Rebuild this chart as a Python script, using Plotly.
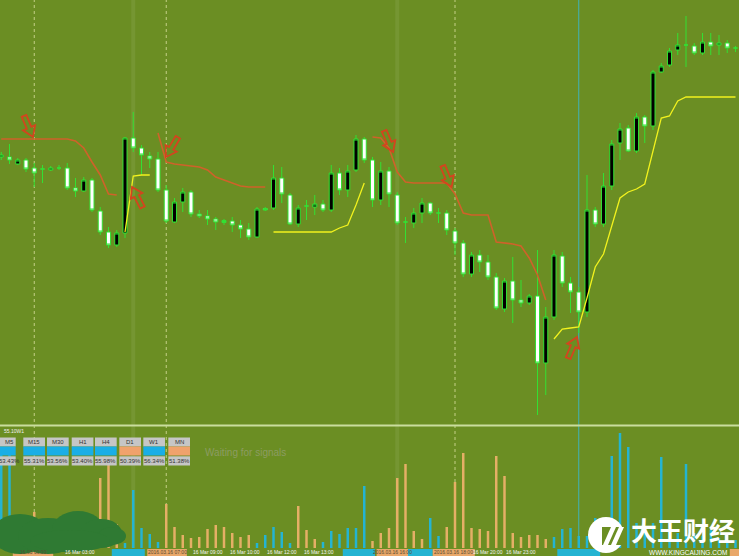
import math
import plotly.graph_objects as go

W, H = 739, 556
BG = "#6b8e23"
WICK = "#33e033"
ORANGE_LINE = "#cf622a"
YELLOW_LINE = "#f2f21e"
ARROW_RED = "#d4441e"
BAR_BLUE = "#24b4d2"
BAR_ORANGE = "#e5af66"
CELL_BLUE = "#1aaee6"
CELL_ORANGE = "#f0a26c"
CELL_GREY = "#c6c6c6"

# ---------------- data ----------------
idx = list(range(90))

opens = [343, 343, 336, 340, 332, 331, 330, 332, 332, 312,
         309, 320, 289, 268, 255, 267, 362, 352, 344, 341,
         310, 278, 298, 308, 286, 284, 281, 277.5, 279, 275,
         271, 263, 291.5, 292, 322, 305, 276, 294, 293, 296,
         290, 327, 310, 330, 361, 340, 300, 329, 305, 278,
         277, 287, 297, 287, 287, 269, 257, 226, 245, 238,
         223, 191, 219, 200, 197, 204, 137, 183, 244, 217,
         208, 188, 290, 276, 314, 357, 372, 349, 383, 374,
         428, 435, 450, 455, 454, 447, 458, 455, 457, 452]
highs = [348, 356, 342, 342, 337, 335, 334, 335, 337, 322,
         323, 322, 293, 273, 270, 363, 388, 355, 348, 348,
         315, 302, 312, 310, 290, 290, 283, 281, 283, 280,
         277, 293, 293, 335, 333, 307, 295, 300, 305, 300,
         335, 332, 335, 365, 363, 343, 338, 333, 308, 283,
         292, 302, 298, 292, 290, 272, 260, 248, 250, 245,
         227, 222, 243, 220, 206, 250, 193, 250, 248, 223,
         213, 325, 293, 327, 360, 377, 375, 387, 385, 430,
         437, 452, 467, 484, 457, 467, 467, 465, 460, 454]
lows = [340, 336, 335, 328, 313, 317, 329, 330, 310, 303,
        308, 288, 265, 252, 253, 262, 348, 325, 332, 308,
        277, 277, 288, 283, 282, 275, 270, 275, 268, 262,
        260, 262, 289, 290, 297, 275, 273, 280, 285, 288,
        288, 305, 303, 328, 337, 293, 295, 293, 275, 257,
        272, 277, 285, 277, 265, 245, 223, 223, 228, 220,
        190, 188, 177, 193, 195, 85, 105, 180, 213, 187,
        167, 183, 273, 273, 310, 340, 348, 347, 357, 370,
        427, 433, 445, 433, 445, 445, 445, 445, 447, 448]
closes = [345, 340, 340, 331, 327, 331, 332, 332, 312, 309,
          320, 290, 268, 255, 267, 362, 352, 345, 341, 310,
          279, 298, 308, 286, 284, 281, 278, 279.5, 275, 271,
          263, 291, 290, 322, 306, 276, 292, 294, 296, 290,
          327, 310, 329, 361, 340, 300, 329, 306, 277, 278,
          287, 297, 287, 287, 270, 257, 226, 245, 238, 223,
          192, 219, 200, 197, 204, 137, 183, 245, 217, 208,
          188, 290, 276, 314, 356, 371, 349, 383, 374, 428,
          434, 449, 455, 455, 447, 458, 454, 457, 452, 452]

N = None
resistance = [361, 361, 361, 361, 361, 361, 361, 361, 361, 359,
              352, 338, 325, 306, 305, N, N, N, N, 367,
              338, 336, 335, 334, 333, 330, 323, 320, 317, 314,
              313, 313, 313, N, N, N, N, N, N, N,
              N, N, N, N, N, 363, 362, 352, 328, 318,
              317, 317, 317, 317, 317, 306, 287, 285, 285, 285,
              258, 257, 256, 254, 242, 225, 200, N, N, N,
              N, N, N, N, N, N, N, N, N, N,
              N, N, N, N, N, N, N, N, N, N]
support = [N, N, N, N, N, N, N, N, N, N,
           N, N, N, N, N, 268, 324, 325, 325, N,
           N, N, N, N, N, N, N, N, N, N,
           N, N, N, 268, 268, 268, 268, 268, 268, 268,
           268, 272, 275, 295, 317, N, N, N, N, N,
           N, N, N, N, N, N, N, N, N, N,
           N, N, N, N, N, N, N, 161, 171, 172,
           173, 202, 233, 246, 274, 302, 308, 311, 316, 348,
           382, 384, 399, 403, 403, 403, 403, 403, 403, 403]

# signal histogram (lower panel)
hist = [100, 100, 20, 10, 36, 15, 12, 8, 4, 4,
        4, 4, 70, 85, 24, 5, 58, 20, 14, 6,
        44, 21, 13, 10, 11, 19, 23, 21, 15, 11,
        13, 5, 13, 21, 16, 5, 42, 18, 9, 6,
        17, 14, 20, 20, 62, 7, 15, 20, 70, 84,
        17, 9, 30, 12, 21, 66, 95, 20, 19, 17,
        92, 72, 15, 11, 13, 13, 9, 11, 19, 20,
        12, 12, 30, 25, 92, 115, 101, 25, 20, 25,
        91, 20, 15, 84, 15, 12, 18, 10, 14, 8]
hist_side = ("bbbsssssss" "sssssbbbbb" "ssssssssss" "sbbbbbsssb"
             "bbbbbsssss" "ssbbssssss" "sssssssbbb" "bbbbbbbbbb" "bbbbbbbbbb")

# signal arrows: candle position, price at tip, direction (deg clockwise from up)
sig_idx = [3.85, 15.85, 19.97, 47.5, 54.6, 69.8]
sig_price = [363, 313, 343, 348, 313, 163]
sig_angle = [157, 333, 211, 157, 157, 23]

# period separators
sep_dotted = [4, 20, 55]
sep_faint = [16, 48]
sep_cyan = [70]

# timeframe table
tf_labels = ["M5", "M15", "M30", "H1", "H4", "D1", "W1", "MN"]
tf_values = ["53.43%", "55.31%", "53.56%", "53.40%", "55.98%", "50.39%", "56.34%", "51.38%"]
tf_signal = ["buy", "buy", "buy", "buy", "buy", "sell", "buy", "sell"]

# time axis labels (bottom strip)
time_idx = [9.5, 25, 29.5, 34, 38.5, 59, 63]
time_txt = ["16 Mar 03:00", "16 Mar 09:00", "16 Mar 10:00", "16 Mar 12:00", "16 Mar 13:00",
            "16 Mar 20:00", "16 Mar 23:00"]
strip_start = [1.4, 13.4, 17.7, 41.4, 45.5, 49.3, 52.3, 67.4, 88.3]
strip_end = [6.3, 17.4, 22.5, 45.3, 49.3, 52.3, 57.4, 72.6, 89.6]
strip_kind = ["s", "b", "s", "b", "s", "b", "s", "b", "s"]
strip_txt = ["16.03 00:00", "", "2016.03.16 07:00", "", "2016.03.16 16:00", "",
             "2016.03.16 18:00", "", ""]

# ---------------- helpers ----------------
X0, DX = 1.25, 8.25
XMIN = (0 - X0) / DX
XMAX = (W - X0) / DX


def PX(x):
    return x / W


def PY(y):
    return 1 - y / H


def ppath(pts):
    return "M " + " L ".join(f"{PX(x):.5f},{PY(y):.5f}" for x, y in pts) + " Z"


ARROW = [(0, 0), (-6.5, -10), (-2.5, -10), (-2.5, -23), (2.5, -23), (2.5, -10), (6.5, -10)]


def arrow_path(angle):
    a = math.radians(angle)
    pts = []
    for px_, py_ in ARROW:
        x = px_ * math.cos(a) + py_ * math.sin(a)
        y = -px_ * math.sin(a) + py_ * math.cos(a)
        pts.append((x, y))
    return "M " + " L ".join(f"{x:.2f},{y:.2f}" for x, y in pts) + " Z"


# ---------------- figure ----------------
fig = go.Figure()

fig.add_trace(go.Scatter(x=idx, y=resistance, mode="lines", connectgaps=False,
                         line=dict(color=ORANGE_LINE, width=1.6), hoverinfo="skip"))
fig.add_trace(go.Scatter(x=idx, y=support, mode="lines", connectgaps=False,
                         line=dict(color=YELLOW_LINE, width=1.3), hoverinfo="skip"))
fig.add_trace(go.Candlestick(
    x=idx, open=opens, high=highs, low=lows, close=closes,
    increasing=dict(fillcolor="#000000", line=dict(color=WICK, width=1)),
    decreasing=dict(fillcolor="#ffffff", line=dict(color=WICK, width=1)),
    whiskerwidth=0, hoverinfo="skip"))
fig.add_trace(go.Bar(x=idx, y=hist, yaxis="y2", width=0.3,
                     marker=dict(color=[BAR_BLUE if s == "b" else BAR_ORANGE for s in hist_side],
                                 line=dict(width=0)),
                     hoverinfo="skip"))

shapes = []
ybot = PY(548)
for v in sep_dotted:
    shapes.append(dict(type="line", xref="x", yref="paper", x0=v, x1=v, y0=ybot, y1=1,
                       line=dict(color="#c4cf86", width=1, dash="dot"), layer="below"))
for v in sep_faint:
    shapes.append(dict(type="line", xref="x", yref="paper", x0=v, x1=v, y0=ybot, y1=1,
                       line=dict(color="rgba(255,255,255,0.07)", width=4), layer="below"))
for v in sep_cyan:
    shapes.append(dict(type="line", xref="x", yref="paper", x0=v, x1=v, y0=ybot, y1=1,
                       line=dict(color="#3fb2b8", width=1), layer="below"))

# panel separator
shapes.append(dict(type="line", xref="paper", yref="paper", x0=0, x1=1, y0=PY(425.5), y1=PY(425.5),
                   line=dict(color="#cadd9e", width=2)))

# arrows
for i_, p_, a_ in zip(sig_idx, sig_price, sig_angle):
    shapes.append(dict(type="path", xref="x", yref="y", xsizemode="pixel", ysizemode="pixel",
                       xanchor=i_, yanchor=p_, path=arrow_path(a_),
                       line=dict(color=ARROW_RED, width=1.8), fillcolor="rgba(0,0,0,0)"))

# timeframe table
box_left = [-6, 23.3, 47, 71.7, 95, 119.3, 143.3, 168.3]
box_w = 21.7
annotations = []
for k, lab in enumerate(tf_labels):
    x0 = box_left[k]
    x1 = x0 + box_w
    shapes.append(dict(type="rect", xref="paper", yref="paper", x0=PX(x0), x1=PX(x1),
                       y0=PY(446.5), y1=PY(437.5), fillcolor=CELL_GREY, line=dict(width=0)))
    shapes.append(dict(type="rect", xref="paper", yref="paper", x0=PX(x0), x1=PX(x1),
                       y0=PY(455.5), y1=PY(446.5),
                       fillcolor=CELL_BLUE if tf_signal[k] == "buy" else CELL_ORANGE, line=dict(width=0)))
    shapes.append(dict(type="rect", xref="paper", yref="paper", x0=PX(x0), x1=PX(x1),
                       y0=PY(465.5), y1=PY(456.3), fillcolor=CELL_GREY, line=dict(width=0)))
    cx = max((x0 + x1) / 2, 9.5)
    annotations.append(dict(x=PX(cx), y=PY(442), xref="paper", yref="paper", text=lab,
                            showarrow=False, font=dict(size=6, color="#333333", family="Liberation Sans"),
                            xanchor="center", yanchor="middle"))
    annotations.append(dict(x=PX(cx), y=PY(461), xref="paper", yref="paper", text=tf_values[k],
                            showarrow=False, font=dict(size=6, color="#333333", family="Liberation Sans"),
                            xanchor="center", yanchor="middle"))

annotations.append(dict(x=PX(2), y=PY(431), xref="paper", yref="paper", text="55.10W1",
                        showarrow=False, font=dict(size=5, color="#f0f0f0", family="Liberation Sans"),
                        xanchor="left", yanchor="middle"))
annotations.append(dict(x=PX(203), y=PY(452), xref="paper", yref="paper", text="Waiting for signals",
                        showarrow=False, font=dict(size=10, color="#8c9c62", family="Liberation Sans"),
                        xanchor="left", yanchor="middle"))

# bottom time strip
for s0, s1, kd, tx in zip(strip_start, strip_end, strip_kind, strip_txt):
    shapes.append(dict(type="rect", xref="x", yref="paper", x0=s0, x1=s1, y0=0, y1=PY(549),
                       fillcolor=BAR_BLUE if kd == "b" else "#e9a86a", line=dict(width=0)))
    if tx:
        annotations.append(dict(x=(s0 + s1) / 2, y=PY(552), xref="x", yref="paper", text=tx,
                                showarrow=False, font=dict(size=5, color="#5a4a30", family="Liberation Sans"),
                                xanchor="center", yanchor="middle"))
for ti, tt in zip(time_idx, time_txt):
    annotations.append(dict(x=ti, y=PY(552), xref="x", yref="paper", text=tt,
                            showarrow=False, font=dict(size=5, color="#f4f4f4", family="Liberation Sans"),
                            xanchor="center", yanchor="middle"))

# dark green smudge bottom-left
SMUDGE = "#2f7a33"
for (a, b, c, d) in [(-8, 514, 48, 554), (18, 518, 78, 554), (52, 511, 104, 548),
                     (80, 519, 122, 548), (98, 527, 126, 545), (30, 530, 110, 552)]:
    shapes.append(dict(type="circle", xref="paper", yref="paper", x0=PX(a), x1=PX(c),
                       y0=PY(d), y1=PY(b), fillcolor=SMUDGE, line=dict(width=0)))

# watermark logo
shapes.append(dict(type="circle", xref="paper", yref="paper", x0=PX(588), x1=PX(624),
                   y0=PY(553), y1=PY(517), fillcolor="#ffffff", line=dict(width=0)))
shapes.append(dict(type="rect", xref="paper", yref="paper", x0=PX(602), x1=PX(627),
                   y0=PY(545), y1=PY(527), fillcolor=BG, line=dict(width=0)))
shapes.append(dict(type="path", xref="paper", yref="paper",
                   path=ppath([(603, 545), (608, 545), (616, 527), (611, 527)]),
                   fillcolor="#ffffff", line=dict(width=0)))
shapes.append(dict(type="path", xref="paper", yref="paper",
                   path=ppath([(611, 545), (616, 545), (624, 527), (619, 527)]),
                   fillcolor="#ffffff", line=dict(width=0)))
annotations.append(dict(x=PX(683), y=PY(529), xref="paper", yref="paper", text="<b>大王财经</b>",
                        showarrow=False, font=dict(size=26, color="#ffffff", family="Noto Sans CJK SC"),
                        xanchor="center", yanchor="middle"))
annotations.append(dict(x=PX(688), y=PY(552.5), xref="paper", yref="paper", text="WWW.KINGCAIJING.COM",
                        showarrow=False, font=dict(size=6.5, color="#ffffff", family="Liberation Sans"),
                        xanchor="center", yanchor="middle"))

fig.update_layout(
    width=W, height=H, margin=dict(l=0, r=0, t=0, b=0),
    paper_bgcolor=BG, plot_bgcolor=BG, showlegend=False,
    xaxis=dict(range=[XMIN, XMAX], visible=False, rangeslider=dict(visible=False), fixedrange=True),
    yaxis=dict(domain=[PY(424), 1], range=[76, 500], visible=False),
    yaxis2=dict(domain=[PY(548), PY(427)], range=[0, 121], visible=False),
    shapes=shapes, annotations=annotations,
)

fig.write_html("out.html", config={"displayModeBar": False},
               post_script="document.body.style.margin='0';document.body.style.padding='0';"
                           "document.body.style.overflow='hidden';")
